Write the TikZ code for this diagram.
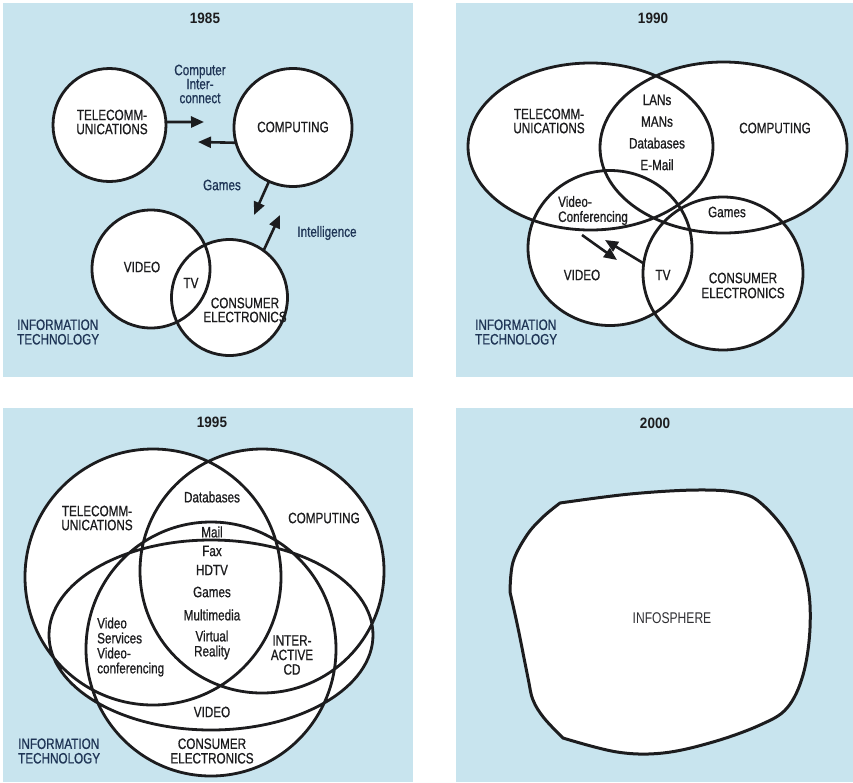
\documentclass[tikz,border=0pt]{standalone}
\usepackage{fontspec}
\setmainfont{Liberation Sans}[FakeStretch=0.78, FakeBold=0.8]
\newfontfamily\plainfont{Liberation Sans}[FakeStretch=0.78]
\newfontfamily\yearfont{Liberation Sans}[FakeStretch=0.9]
\usetikzlibrary{arrows.meta}
\definecolor{sky}{RGB}{200,228,238}
\definecolor{ink}{RGB}{28,28,30}
\definecolor{navy}{RGB}{30,52,85}
\definecolor{soft}{RGB}{48,48,52}
\pgfdeclarelayer{back}
\pgfsetlayers{back,main}
\newcommand\lblsize[1]{\fontsize{15}{#1}\selectfont}
\begin{document}
\begin{tikzpicture}[x=1pt,y=-1pt,
  ring/.style={circle, draw=ink, line width=2.8pt, inner sep=0pt, outer sep=0pt},
  outline/.style={draw=ink, line width=2.8pt, fill=white},
  lbl/.style={font=\lblsize{14}, text=ink, align=center, inner sep=0pt},
  note/.style={lbl, text=navy},
  year/.style={font=\yearfont\bfseries\fontsize{15}{15}\selectfont, text=ink, inner sep=0pt},
  arr/.style={line width=2.6pt, draw=ink, -{Triangle[length=13pt,width=11pt]}},
]
\useasboundingbox (0,0) rectangle (853,782);
\begin{pgfonlayer}{back}
  \fill[white] (0,0) rectangle (853,782);
  \fill[sky] (3,3) rectangle (413,377);
  \fill[sky] (456,3) rectangle (853,377);
  \fill[sky] (3,408) rectangle (413,782);
  \fill[sky] (456,408) rectangle (853,782);
\end{pgfonlayer}

% ---------------- 1985 ----------------
\node[year] (y85) at (205,18) {1985};
\node[ring, minimum size=113pt] (tele85) at (109.5,125) {};
\node[ring, minimum size=118pt] (comp85) at (293,127.5) {};
\node[ring, minimum size=118pt] (vid85) at (151,269) {};
\node[ring, minimum size=116pt] (cons85) at (229.5,297.5) {};
\begin{pgfonlayer}{back}
  \fill[white] (tele85.center) circle[radius=56.5pt];
  \fill[white] (comp85.center) circle[radius=59pt];
  \fill[white] (vid85.center) circle[radius=59pt];
  \fill[white] (cons85.center) circle[radius=58pt];
\end{pgfonlayer}
\node[lbl] (tele85t) at (112,122) {TELECOMM-\\UNICATIONS};
\node[lbl] (comp85t) at (293,127) {COMPUTING};
\node[note, font=\lblsize{14}] (link85) at (200,84) {Computer\\Inter-\\connect};
\node[note] (game85) at (222,185) {Games};
\node[note] (intl85) at (327,233) {Intelligence};
\node[lbl] (vid85t) at (142,267) {VIDEO};
\node[lbl] (tv85) at (191,283) {TV};
\node[lbl] (cons85t) at (245,310) {CONSUMER\\ELECTRONICS};
\node[note, align=left, anchor=west, font=\lblsize{14.5}] (it85) at (17,332) {INFORMATION\\TECHNOLOGY};
\coordinate (a85r) at (204,122);
\coordinate (a85l) at (198,142);
\coordinate (a85g) at (254,215);
\coordinate (a85i) at (280,215);
\draw[arr] (tele85.3) -- (a85r);
\draw[arr] (comp85.195) -- (a85l);
\draw[arr] (comp85.246) -- (a85g);
\draw[arr] (cons85.54) -- (a85i);

% ---------------- 1990 ----------------
\node[year] (y90) at (653,18) {1990};
\coordinate (tele90) at (590.5,146.5);
\coordinate (comp90) at (723.5,147.5);
\coordinate (vid90) at (610,248);
\coordinate (cons90) at (723,273.5);
\draw[outline]
  (tele90) ellipse[x radius=122.5pt, y radius=83.5pt]
  (comp90) ellipse[x radius=123.5pt, y radius=85.5pt]
  (vid90) ellipse[x radius=82pt, y radius=77.5pt]
  (cons90) ellipse[x radius=80pt, y radius=76.5pt];
\node[lbl] (tele90t) at (549,121) {TELECOMM-\\UNICATIONS};
\node[lbl, font=\lblsize{21.7}] (net90) at (657,132.5) {LANs\\MANs\\Databases\\E-Mail};
\node[lbl] (comp90t) at (775,128) {COMPUTING};
\node[lbl, align=left, anchor=west, font=\lblsize{15}] (conf90) at (558,210.5) {Video-\\Conferencing};
\node[lbl] (game90) at (727,212) {Games};
\node[lbl] (tv90) at (663,275) {TV};
\node[lbl] (vid90t) at (582,275) {VIDEO};
\node[lbl, font=\lblsize{15}] (cons90t) at (743,285.5) {CONSUMER\\ELECTRONICS};
\node[note, align=left, anchor=west, font=\lblsize{14.5}] (it90) at (475,332) {INFORMATION\\TECHNOLOGY};
\coordinate (a90s) at (582,235);
\coordinate (a90e) at (617,260);
\coordinate (a90b) at (643,263);
\coordinate (a90t) at (605,240);
\draw[arr] (a90s) -- (a90e);
\draw[arr] (a90b) -- (a90t);

% ---------------- 1995 ----------------
\node[year] (y95) at (212,422) {1995};
\coordinate (tele95) at (153,577);
\coordinate (comp95) at (262,571);
\coordinate (vid95) at (211,635);
\coordinate (cons95) at (211,649);
\draw[outline]
  (tele95) circle[radius=128pt]
  (comp95) circle[radius=122pt]
  (vid95) ellipse[x radius=162pt, y radius=95pt]
  (cons95) ellipse[x radius=125pt, y radius=127pt];
\node[lbl] (tele95t) at (97,518) {TELECOMM-\\UNICATIONS};
\node[lbl] (comp95t) at (324,518) {COMPUTING};
\node[lbl] (db95) at (212,497) {Databases};
\node[lbl] (mail95) at (212,532) {Mail};
\node[lbl] (fax95) at (212,551) {Fax};
\node[lbl] (hdtv95) at (212,570) {HDTV};
\node[lbl] (game95) at (212,592) {Games};
\node[lbl] (mm95) at (212,615) {Multimedia};
\node[lbl, font=\lblsize{15}] (vr95) at (212,645) {Virtual\\Reality};
\node[lbl, align=left, anchor=west, font=\lblsize{15}] (vs95) at (97,647) {Video\\Services\\Video-\\conferencing};
\node[lbl, font=\lblsize{14.5}] (cd95) at (292,655) {INTER-\\ACTIVE\\CD};
\node[lbl] (vid95t) at (212,712) {VIDEO};
\node[lbl, font=\lblsize{14.5}] (cons95t) at (212,751) {CONSUMER\\ELECTRONICS};
\node[note, align=left, anchor=west, font=\lblsize{14.5}] (it95) at (18,751) {INFORMATION\\TECHNOLOGY};

% ---------------- 2000 ----------------
\node[year] (y00) at (655,423) {2000};
\draw[outline, line width=3pt, line join=round]
  plot[smooth, tension=0.6] coordinates {(560,503) (630,494) (697,490) (740,493)
    (763,505) (790,538) (807,582) (810,628) (803,675) (787,708) (760,725)
    (713,742) (663,753) (617,752) (563,738)}
  -- plot[smooth, tension=0.6] coordinates {(563,738) (544,718) (533,700)
    (528,678) (518,628) (510,592)}
  -- plot[smooth, tension=0.6] coordinates {(510,592) (513,562) (527,535)
    (543,517) (560,503)}
  -- cycle;
\node[lbl, font=\plainfont\fontsize{15.5}{15}\selectfont, text=soft] (info00) at (672,618) {INFOSPHERE};
\end{tikzpicture}
\end{document}
